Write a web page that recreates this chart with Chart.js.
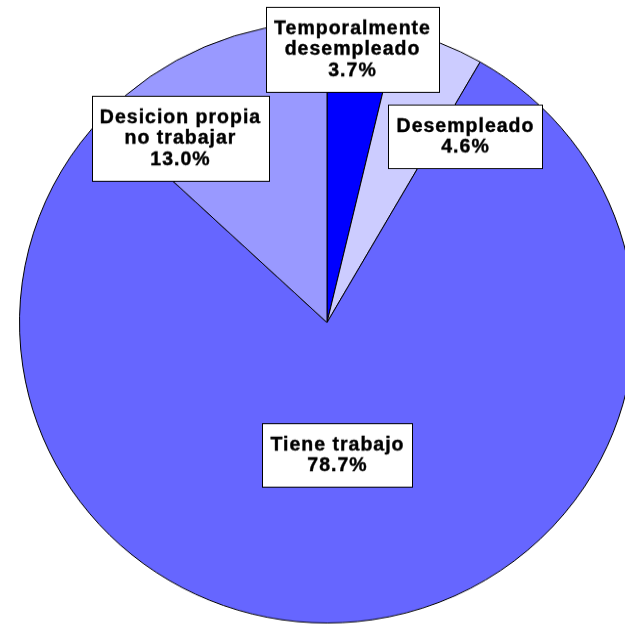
<!DOCTYPE html>
<html>
<head>
<meta charset="utf-8">
<script src="https://cdn.jsdelivr.net/npm/chart.js@4/dist/chart.umd.min.js"></script>
<style>
  html, body { margin: 0; padding: 0; background: #fff; overflow: hidden; }
  #c { position: absolute; left: -3px; top: 0; }
</style>
</head>
<body>
<canvas id="c" width="660" height="660" style="width:660px;height:645px"></canvas>
<script>
// data
const categories = ['Temporalmente desempleado', 'Desempleado', 'Tiene trabajo', 'Desicion propia no trabajar'];
const labelLines = [['Temporalmente', 'desempleado'], ['Desempleado'], ['Tiene trabajo'], ['Desicion propia', 'no trabajar']];
const values = [3.7, 4.6, 78.7, 13.0];
const colors = ['#0000FF', '#CCCCFF', '#6666FF', '#9999FF'];

// where each label box sits, offset from the pie centre (canvas px)
const labelOffsets = [[25, -280], [138, -191], [10, 135], [-147, -189]];

// the original pie is a bit squashed vertically
const yScale = 645 / 660;

const boxLabels = {
    id: 'boxLabels',
    afterDatasetsDraw(chart) {
        const ctx = chart.ctx;
        const meta = chart.getDatasetMeta(0);
        ctx.save();
        ctx.font = 'bold 19.5px "Liberation Sans", Arial, sans-serif';
        ctx.letterSpacing = '1px';
        ctx.textAlign = 'center';
        ctx.textBaseline = 'middle';
        const lineH = 21 / yScale;
        meta.data.forEach(function (arc, i) {
            const lines = labelLines[i].concat([values[i].toFixed(1) + '%']);
            let w = 0;
            lines.forEach(function (l) { w = Math.max(w, ctx.measureText(l).width); });
            w = Math.round(w + 16);
            const h = Math.round(lines.length * lineH + 22 / yScale);
            const cx = arc.x + labelOffsets[i][0];
            const cy = arc.y + labelOffsets[i][1];
            const x = Math.round(cx - w / 2) + 0.5;
            const y = Math.round(cy - h / 2) + 0.5;
            ctx.fillStyle = '#fff';
            ctx.fillRect(x, y, w, h);
            ctx.strokeStyle = '#000';
            ctx.lineWidth = 1;
            ctx.strokeRect(x, y, w, h);
            ctx.fillStyle = '#000';
            ctx.strokeStyle = '#000';
            ctx.lineWidth = 0.4;
            lines.forEach(function (l, k) {
                const ty = cy + (k - (lines.length - 1) / 2) * lineH + 1;
                ctx.fillText(l, cx + 0.5, ty);
                ctx.strokeText(l, cx + 0.5, ty);
            });
        });
        ctx.restore();
    }
};

new Chart(document.getElementById('c'), {
    type: 'pie',
    data: {
        labels: categories,
        datasets: [{
            data: values,
            backgroundColor: colors,
            borderColor: '#000',
            borderWidth: 1
        }]
    },
    options: {
        responsive: false,
        animation: false,
        layout: { padding: 22 },
        plugins: {
            legend: { display: false },
            tooltip: { enabled: false }
        }
    },
    plugins: [boxLabels]
});
</script>
</body>
</html>
